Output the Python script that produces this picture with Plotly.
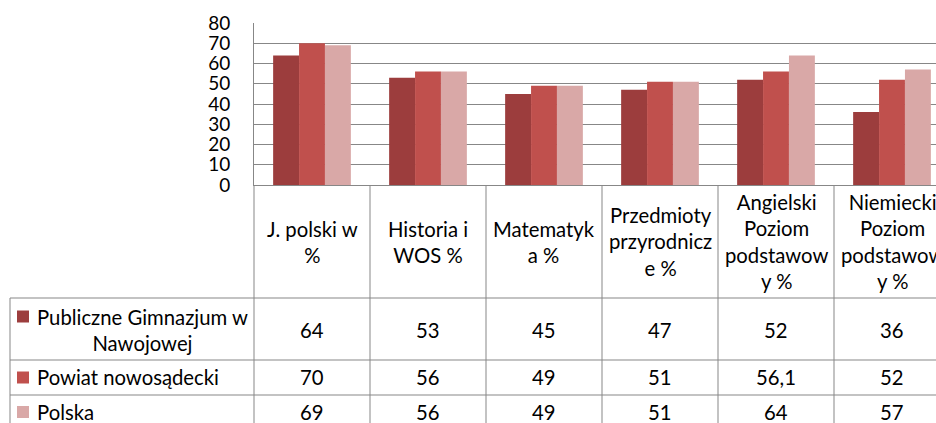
import plotly.graph_objects as go

# ---------------- data ----------------
header_labels = [
    "J. polski w<br>%",
    "Historia i<br>WOS %",
    "Matematyk<br>a %",
    "Przedmioty<br>przyrodnicz<br>e %",
    "Angielski<br>Poziom<br>podstawow<br>y %",
    "Niemiecki<br>Poziom<br>podstawow<br>y %",
]
series_names = ["Publiczne Gimnazjum w<br>Nawojowej", "Powiat nowosądecki", "Polska"]
gimnazjum = [64, 53, 45, 47, 52, 36]
powiat = [70, 56, 49, 51, 56.1, 52]
polska = [69, 56, 49, 51, 64, 57]
series_values = [gimnazjum, powiat, polska]
y_ticks = [0, 10, 20, 30, 40, 50, 60, 70, 80]

# ---------------- style / layout ----------------
colors = ["#9c3d3d", "#c0504d", "#d9a8a7"]
grid_color = "#878787"
FONT = "Lato"
FS = 20.3
TICK_FS = 19
W, H = 936, 423
L, T, B = 254, 23, 185          # plot area pixels
CAT_W = 116                      # pixel width of one category
row_lines = [298, 360, 395]      # table horizontal borders (pixels)
row_centers = [330, 377.5, 412]
header_center = 241.5
legend_left = 10
key_x0, key_size = 17, 12
label_x = 35


def py(p):
    return (B - p) / (B - T)


def px(p):
    return (p - L) / (W - L)


ncat = len(header_labels)
xs = list(range(ncat))

fig = go.Figure()
for name, vals, col in zip(series_names, series_values, colors):
    fig.add_trace(go.Bar(x=xs, y=vals, name=name.replace("<br>", " "),
                         marker=dict(color=col, line=dict(width=0)), hoverinfo="skip"))

shapes = []
# horizontal table lines
for r in row_lines:
    shapes.append(dict(type="line", xref="paper", yref="paper",
                       x0=px(legend_left), x1=1.02, y0=py(r), y1=py(r),
                       line=dict(color=grid_color, width=1)))
# legend column left border
shapes.append(dict(type="line", xref="paper", yref="paper",
                   x0=px(legend_left), x1=px(legend_left),
                   y0=py(row_lines[0]), y1=py(H + 10),
                   line=dict(color=grid_color, width=1)))
# column borders
shapes.append(dict(type="line", xref="paper", yref="paper", x0=0, x1=0,
                   y0=0, y1=py(H + 10), line=dict(color=grid_color, width=1)))
for i in range(1, ncat + 1):
    shapes.append(dict(type="line", xref="x", yref="paper", x0=i - 0.5, x1=i - 0.5,
                       y0=0, y1=py(H + 10), line=dict(color=grid_color, width=1)))
# legend keys
for j, col in enumerate(colors):
    yc = row_centers[j] if j > 0 else 316.5
    shapes.append(dict(type="rect", xref="paper", yref="paper",
                       x0=px(key_x0), x1=px(key_x0 + key_size),
                       y0=py(yc - key_size / 2), y1=py(yc + key_size / 2),
                       fillcolor=col, line=dict(width=0)))

annotations = []
for i, lab in enumerate(header_labels):
    annotations.append(dict(x=i, y=py(header_center), xref="x", yref="paper",
                            text=lab, showarrow=False, xanchor="center", yanchor="middle",
                            align="center", font=dict(family=FONT, size=FS, color="#000")))
for j, (name, vals) in enumerate(zip(series_names, series_values)):
    annotations.append(dict(x=px(label_x), y=py(row_centers[j]), xref="paper", yref="paper",
                            text=name, showarrow=False, xanchor="left", yanchor="middle",
                            align="center", font=dict(family=FONT, size=FS, color="#000")))
    for i, v in enumerate(vals):
        annotations.append(dict(x=i, y=py(row_centers[j]), xref="x", yref="paper",
                                text=f"{v:g}".replace(".", ","), showarrow=False,
                                xanchor="center", yanchor="middle",
                                font=dict(family=FONT, size=FS, color="#000")))

fig.update_layout(
    width=W, height=H,
    margin=dict(l=L, r=0, t=T, b=H - B, pad=0),
    paper_bgcolor="white", plot_bgcolor="white",
    barmode="group", bargap=0.33, bargroupgap=0,
    showlegend=False, hovermode=False,
    shapes=shapes, annotations=annotations,
    font=dict(family=FONT, size=FS, color="#000"),
)
fig.update_xaxes(range=[-0.5, -0.5 + (W - L) / CAT_W], showticklabels=False,
                 showgrid=False, zeroline=False, showline=True,
                 linecolor=grid_color, linewidth=1, fixedrange=True)
fig.update_yaxes(range=[0, 80], tickvals=y_ticks, showgrid=True, gridcolor=grid_color,
                 gridwidth=1, zeroline=False, showline=True, linecolor=grid_color,
                 linewidth=1, ticks="", ticklabelstandoff=19, fixedrange=True,
                 tickfont=dict(family=FONT, size=TICK_FS, color="#000"))

fig.write_html(
    "out.html",
    config={"displayModeBar": False, "staticPlot": True},
    post_script="document.body.style.margin='0';document.body.style.overflow='hidden';",
)
